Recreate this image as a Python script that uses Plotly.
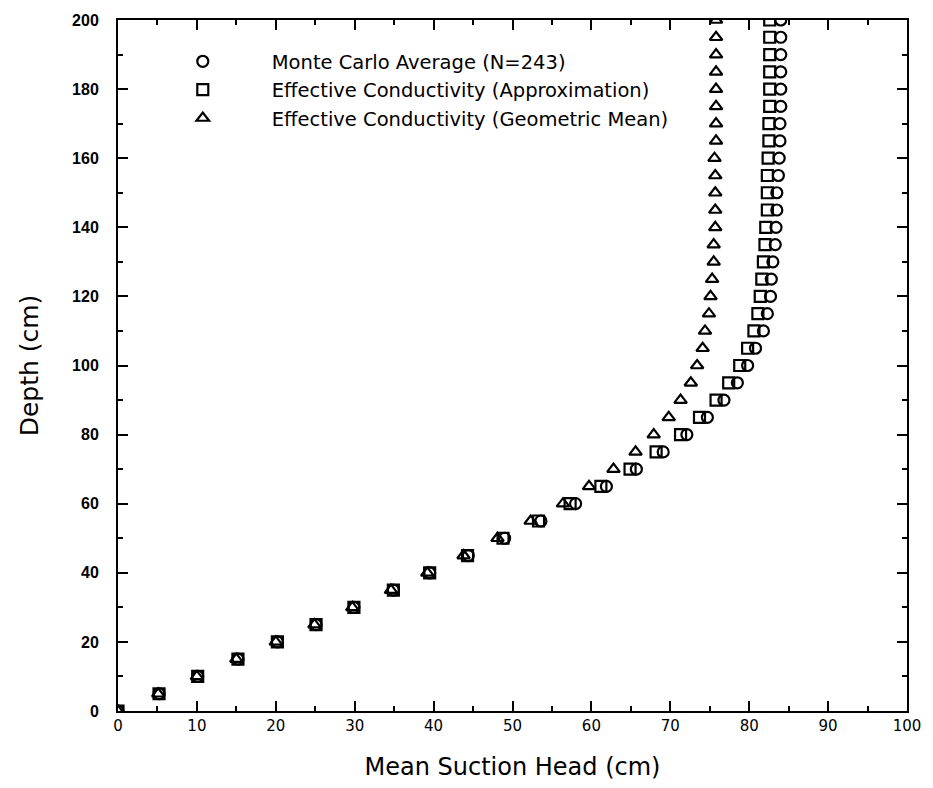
import plotly.graph_objects as go

# Depth below which suction is computed (cm)
depth = [0, 5, 10, 15, 20, 25, 30, 35, 40, 45, 50, 55, 60, 65, 70, 75, 80, 85, 90, 95,
         100, 105, 110, 115, 120, 125, 130, 135, 140, 145, 150, 155, 160, 165, 170, 175,
         180, 185, 190, 195, 200]

# Mean suction head (cm) for each method
monte_carlo = [0, 5.2, 10.1, 15.2, 20.2, 25.1, 29.9, 34.9, 39.5, 44.4, 49.0, 53.6, 58.0,
               61.9, 65.7, 69.1, 72.1, 74.7, 76.8, 78.5, 79.8, 80.8, 81.8, 82.3, 82.7,
               82.8, 83.0, 83.3, 83.4, 83.5, 83.5, 83.7, 83.8, 83.9, 83.9, 84.0, 84.0,
               84.0, 84.0, 84.0, 84.0]
eff_approx = [0, 5.2, 10.1, 15.2, 20.2, 25.1, 29.9, 34.9, 39.5, 44.3, 48.8, 53.3, 57.3,
              61.2, 64.9, 68.2, 71.3, 73.7, 75.8, 77.4, 78.8, 79.8, 80.6, 81.1, 81.4,
              81.6, 81.8, 82.0, 82.1, 82.3, 82.3, 82.3, 82.4, 82.5, 82.5, 82.6, 82.6,
              82.6, 82.6, 82.6, 82.6]
eff_geomean = [0, 5.1, 10.0, 15.0, 20.0, 24.9, 29.7, 34.6, 39.2, 43.8, 48.1, 52.3, 56.4,
               59.7, 62.8, 65.6, 67.9, 69.8, 71.3, 72.6, 73.4, 74.1, 74.4, 74.9, 75.1,
               75.3, 75.5, 75.5, 75.7, 75.7, 75.7, 75.7, 75.6, 75.8, 75.8, 75.8, 75.8,
               75.8, 75.8, 75.8, 75.8]

series_names = ["Monte Carlo Average (N=243)",
                "Effective Conductivity (Approximation)",
                "Effective Conductivity (Geometric Mean)"]
x_ticks = list(range(0, 101, 10))
y_ticks = list(range(0, 201, 20))

FONT = "DejaVu Sans"

fig = go.Figure()
for name, vals, sym in [(series_names[0], monte_carlo, "circle-open"),
                        (series_names[1], eff_approx, "square-open"),
                        (series_names[2], eff_geomean, "triangle-up-open")]:
    fig.add_trace(go.Scatter(
        x=vals, y=depth, mode="markers", name=name,
        marker=dict(symbol=sym, size=11, color="black",
                    line=dict(width=2.2, color="black")),
    ))

axis_common = dict(
    showgrid=False, zeroline=False, showline=True, linecolor="black",
    linewidth=2, mirror="ticks", ticks="inside", tickcolor="black",
    tickwidth=1.5, ticklen=10,
)

fig.update_xaxes(
    range=[0, 100], tickvals=x_ticks, ticktext=[str(v) for v in x_ticks],
    minor=dict(dtick=5, ticks="inside", ticklen=5, tickcolor="black", tickwidth=1.5),
    tickfont=dict(family=FONT, size=15, color="black"),
    title=dict(text="Mean Suction Head (cm)", font=dict(family=FONT, size=24, color="black"),
               standoff=24),
    **axis_common,
)
fig.update_yaxes(
    range=[0, 200], tickvals=y_ticks, ticktext=[str(v) for v in y_ticks],
    minor=dict(dtick=10, ticks="inside", ticklen=5, tickcolor="black", tickwidth=1.5),
    tickfont=dict(family="Liberation Sans", size=16, color="black", weight="bold"),
    ticklabelstandoff=14,
    title=dict(text="Depth (cm)", font=dict(family=FONT, size=25, color="black"),
               standoff=26),
    **axis_common,
)

fig.update_layout(
    width=933, height=788,
    margin=dict(l=118, r=22, t=20, b=76),
    paper_bgcolor="white", plot_bgcolor="white",
    showlegend=True,
    legend=dict(x=0.02, y=0.968, xanchor="left", yanchor="top",
                bgcolor="rgba(0,0,0,0)", itemwidth=128,
                font=dict(family=FONT, size=19.5, color="black")),
)

fig.write_html("out.html")
